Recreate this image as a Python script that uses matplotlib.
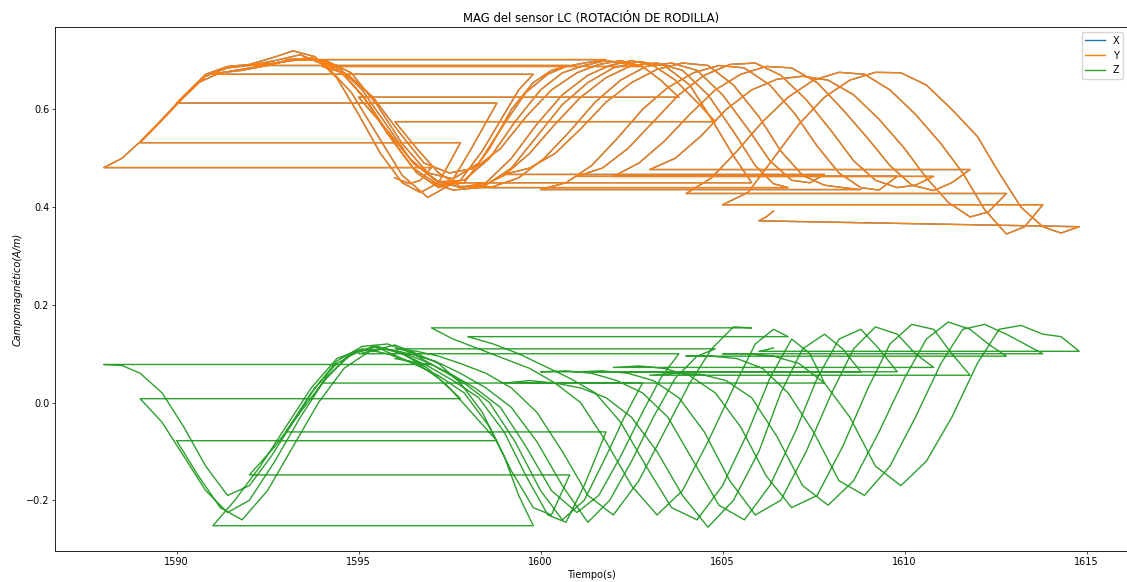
import matplotlib
matplotlib.use('Agg')
import matplotlib.pyplot as plt

# tramos de la grabacion (el tiempo vuelve atras entre tramos)
tiempo = [
    [1596.0, 1596.4, 1596.7, 1597.0],
    [1588.0, 1588.5, 1589.0, 1589.6, 1590.2, 1590.8, 1591.4, 1592.0, 1592.6, 1593.2, 1593.8, 1594.4, 1595.0, 1595.6, 1596.2, 1596.7, 1597.2, 1597.8],
    [1589.0, 1589.6, 1590.2, 1590.8, 1591.4, 1592.0, 1592.7, 1593.4, 1594.1, 1594.8, 1595.5, 1596.2, 1596.9, 1597.5, 1598.1, 1598.8],
    [1590.0, 1590.6, 1591.2, 1591.8, 1592.5, 1593.2, 1593.9, 1594.6, 1595.3, 1596.0, 1596.6, 1597.2, 1597.8, 1598.4, 1599.0, 1599.4, 1599.8],
    [1591.0, 1591.6, 1592.3, 1593.0, 1593.7, 1594.4, 1595.1, 1595.8, 1596.5, 1597.2, 1597.9, 1598.6, 1599.2, 1599.8, 1600.3, 1600.8],
    [1592.0, 1592.7, 1593.4, 1594.1, 1594.8, 1595.5, 1596.2, 1596.9, 1597.6, 1598.3, 1599.0, 1599.6, 1600.2, 1600.7, 1601.2, 1601.8],
    [1593.0, 1593.7, 1594.4, 1595.1, 1595.8, 1596.5, 1597.2, 1597.9, 1598.6, 1599.3, 1600.0, 1600.6, 1601.2, 1601.8, 1602.3, 1602.8],
    [1594.0, 1594.7, 1595.4, 1596.1, 1596.8, 1597.5, 1598.2, 1598.9, 1599.6, 1600.3, 1601.0, 1601.6, 1602.2, 1602.8, 1603.3, 1603.8],
    [1595.0, 1595.7, 1596.4, 1597.1, 1597.8, 1598.5, 1599.2, 1599.9, 1600.6, 1601.3, 1601.9, 1602.5, 1603.1, 1603.7, 1604.3, 1604.8],
    [1596.0, 1596.6, 1597.2, 1597.8, 1598.5, 1599.2, 1599.9, 1600.6, 1601.3, 1602.0, 1602.7, 1603.4, 1604.1, 1604.7, 1605.3, 1605.8],
    [1597.0, 1597.6, 1598.3, 1599.0, 1599.7, 1600.4, 1601.1, 1601.8, 1602.5, 1603.2, 1603.9, 1604.6, 1605.3, 1605.9, 1606.4, 1606.8],
    [1598.0, 1598.7, 1599.4, 1600.1, 1600.8, 1601.5, 1602.2, 1602.9, 1603.6, 1604.3, 1605.0, 1605.7, 1606.3, 1606.9, 1607.4, 1607.8],
    [1599.0, 1599.7, 1600.4, 1601.1, 1601.8, 1602.5, 1603.2, 1603.9, 1604.6, 1605.3, 1606.0, 1606.6, 1607.2, 1607.8, 1608.3, 1608.8],
    [1600.0, 1600.7, 1601.4, 1602.1, 1602.8, 1603.5, 1604.2, 1604.9, 1605.6, 1606.3, 1607.0, 1607.6, 1608.2, 1608.8, 1609.3, 1609.8],
    [1601.0, 1601.7, 1602.4, 1603.1, 1603.8, 1604.5, 1605.2, 1605.9, 1606.6, 1607.3, 1608.0, 1608.6, 1609.2, 1609.8, 1610.3, 1610.8],
    [1602.0, 1602.7, 1603.4, 1604.1, 1604.8, 1605.5, 1606.2, 1606.9, 1607.6, 1608.3, 1609.0, 1609.6, 1610.2, 1610.8, 1611.3, 1611.8],
    [1603.0, 1603.7, 1604.4, 1605.1, 1605.8, 1606.5, 1607.2, 1607.9, 1608.6, 1609.3, 1610.0, 1610.6, 1611.2, 1611.8, 1612.3, 1612.8],
    [1604.0, 1604.7, 1605.4, 1606.1, 1606.8, 1607.5, 1608.2, 1608.9, 1609.6, 1610.3, 1611.0, 1611.6, 1612.2, 1612.8, 1613.3, 1613.8],
    [1605.0, 1605.7, 1606.4, 1607.1, 1607.8, 1608.5, 1609.2, 1609.9, 1610.6, 1611.3, 1612.0, 1612.6, 1613.2, 1613.8, 1614.3, 1614.8],
    [1606.0, 1606.2, 1606.4],
]

mag_y = [
    [0.460, 0.448, 0.455, 0.481],
    [0.481, 0.500, 0.534, 0.580, 0.628, 0.672, 0.688, 0.692, 0.705, 0.720, 0.708, 0.665, 0.590, 0.510, 0.450, 0.430, 0.450, 0.532],
    [0.532, 0.578, 0.625, 0.668, 0.685, 0.690, 0.700, 0.712, 0.690, 0.635, 0.550, 0.465, 0.420, 0.445, 0.520, 0.613],
    [0.613, 0.655, 0.675, 0.680, 0.690, 0.702, 0.700, 0.672, 0.610, 0.530, 0.470, 0.440, 0.455, 0.515, 0.590, 0.640, 0.672],
    [0.672, 0.680, 0.688, 0.700, 0.706, 0.685, 0.630, 0.550, 0.480, 0.445, 0.450, 0.520, 0.600, 0.655, 0.680, 0.690],
    [0.690, 0.695, 0.702, 0.700, 0.675, 0.610, 0.530, 0.470, 0.458, 0.490, 0.570, 0.635, 0.672, 0.688, 0.695, 0.702],
    [0.702, 0.705, 0.690, 0.640, 0.565, 0.490, 0.452, 0.455, 0.500, 0.575, 0.640, 0.675, 0.690, 0.700, 0.695, 0.688],
    [0.688, 0.672, 0.625, 0.555, 0.490, 0.470, 0.480, 0.520, 0.585, 0.640, 0.675, 0.692, 0.700, 0.688, 0.660, 0.625],
    [0.625, 0.565, 0.500, 0.455, 0.440, 0.450, 0.500, 0.570, 0.630, 0.670, 0.690, 0.700, 0.690, 0.660, 0.615, 0.575],
    [0.575, 0.520, 0.470, 0.442, 0.445, 0.480, 0.545, 0.610, 0.655, 0.685, 0.698, 0.690, 0.650, 0.580, 0.505, 0.450],
    [0.450, 0.435, 0.440, 0.465, 0.510, 0.570, 0.625, 0.665, 0.690, 0.695, 0.680, 0.630, 0.555, 0.485, 0.448, 0.440],
    [0.440, 0.442, 0.460, 0.500, 0.555, 0.615, 0.660, 0.688, 0.695, 0.680, 0.630, 0.560, 0.495, 0.455, 0.450, 0.467],
    [0.467, 0.480, 0.510, 0.560, 0.615, 0.655, 0.682, 0.695, 0.690, 0.650, 0.585, 0.515, 0.465, 0.445, 0.440, 0.436],
    [0.436, 0.450, 0.485, 0.540, 0.600, 0.645, 0.675, 0.690, 0.685, 0.650, 0.590, 0.525, 0.470, 0.440, 0.435, 0.463],
    [0.463, 0.480, 0.520, 0.575, 0.630, 0.670, 0.692, 0.695, 0.670, 0.620, 0.555, 0.495, 0.455, 0.440, 0.445, 0.463],
    [0.463, 0.490, 0.535, 0.590, 0.640, 0.672, 0.688, 0.685, 0.655, 0.600, 0.540, 0.485, 0.445, 0.434, 0.450, 0.477],
    [0.477, 0.500, 0.545, 0.600, 0.640, 0.662, 0.668, 0.660, 0.630, 0.580, 0.520, 0.460, 0.410, 0.380, 0.390, 0.428],
    [0.428, 0.460, 0.515, 0.575, 0.625, 0.660, 0.676, 0.672, 0.640, 0.590, 0.530, 0.470, 0.395, 0.345, 0.360, 0.405],
    [0.405, 0.430, 0.500, 0.570, 0.625, 0.660, 0.676, 0.675, 0.650, 0.600, 0.545, 0.470, 0.400, 0.360, 0.347, 0.360],
    [0.372, 0.380, 0.392],
]

mag_z = [
    [0.090, 0.085, 0.080, 0.078],
    [0.078, 0.076, 0.060, 0.020, -0.050, -0.130, -0.190, -0.170, -0.110, -0.040, 0.030, 0.080, 0.105, 0.110, 0.090, 0.075, 0.050, 0.008],
    [0.008, -0.040, -0.110, -0.180, -0.225, -0.200, -0.120, -0.030, 0.050, 0.100, 0.115, 0.100, 0.070, 0.030, -0.020, -0.078],
    [-0.078, -0.150, -0.215, -0.240, -0.180, -0.090, 0.000, 0.070, 0.105, 0.118, 0.100, 0.080, 0.040, -0.020, -0.110, -0.190, -0.252],
    [-0.252, -0.200, -0.130, -0.050, 0.030, 0.090, 0.110, 0.100, 0.080, 0.055, 0.020, -0.050, -0.140, -0.215, -0.230, -0.148],
    [-0.148, -0.090, -0.020, 0.050, 0.100, 0.115, 0.100, 0.075, 0.045, 0.010, -0.060, -0.150, -0.230, -0.245, -0.170, -0.060],
    [-0.060, 0.020, 0.085, 0.115, 0.120, 0.100, 0.070, 0.040, 0.000, -0.080, -0.180, -0.240, -0.200, -0.110, -0.030, 0.040],
    [0.040, 0.095, 0.115, 0.105, 0.085, 0.060, 0.030, -0.010, -0.090, -0.180, -0.225, -0.190, -0.110, -0.020, 0.050, 0.100],
    [0.100, 0.110, 0.100, 0.085, 0.060, 0.030, -0.010, -0.080, -0.170, -0.245, -0.200, -0.120, -0.030, 0.050, 0.095, 0.110],
    [0.110, 0.105, 0.095, 0.080, 0.060, 0.030, -0.020, -0.100, -0.190, -0.230, -0.160, -0.060, 0.040, 0.110, 0.155, 0.153],
    [0.153, 0.130, 0.110, 0.090, 0.070, 0.040, 0.000, -0.080, -0.170, -0.230, -0.180, -0.080, 0.030, 0.120, 0.150, 0.135],
    [0.135, 0.120, 0.100, 0.075, 0.050, 0.020, -0.040, -0.130, -0.215, -0.240, -0.170, -0.060, 0.050, 0.130, 0.100, 0.040],
    [0.040, 0.045, 0.040, 0.030, 0.010, -0.030, -0.100, -0.190, -0.255, -0.200, -0.100, 0.020, 0.110, 0.140, 0.110, 0.063],
    [0.063, 0.065, 0.060, 0.045, 0.020, -0.030, -0.120, -0.210, -0.240, -0.170, -0.060, 0.050, 0.130, 0.150, 0.110, 0.063],
    [0.063, 0.065, 0.060, 0.045, 0.010, -0.060, -0.160, -0.230, -0.200, -0.100, 0.020, 0.110, 0.155, 0.140, 0.100, 0.072],
    [0.072, 0.075, 0.070, 0.055, 0.020, -0.050, -0.150, -0.215, -0.190, -0.090, 0.030, 0.120, 0.160, 0.150, 0.100, 0.056],
    [0.056, 0.060, 0.058, 0.045, 0.010, -0.070, -0.170, -0.210, -0.160, -0.060, 0.050, 0.130, 0.165, 0.150, 0.120, 0.095],
    [0.095, 0.095, 0.090, 0.070, 0.020, -0.060, -0.160, -0.190, -0.130, -0.030, 0.080, 0.150, 0.160, 0.140, 0.120, 0.100],
    [0.100, 0.100, 0.095, 0.080, 0.040, -0.030, -0.130, -0.170, -0.120, -0.030, 0.080, 0.150, 0.158, 0.140, 0.135, 0.105],
    [0.105, 0.108, 0.112],
]

# aplanar los tramos en una sola serie
t = [v for seg in tiempo for v in seg]
y = [v for seg in mag_y for v in seg]
z = [v for seg in mag_z for v in seg]
x = list(y)  # X queda tapada por Y en la grafica

plt.rcParams['font.size'] = 7.0

fig = plt.figure(figsize=(11.27, 5.82), dpi=100)
ax = fig.add_axes([55 / 1127, 31 / 582, 1073 / 1127, 524 / 582])

ax.plot(t, x, label='X', lw=1.0)
ax.plot(t, y, label='Y', lw=1.0)
ax.plot(t, z, label='Z', lw=1.0)

ax.set_title('MAG del sensor LC (ROTACIÓN DE RODILLA)', fontsize=8.4, pad=3.6)
ax.set_xlabel('Tiempo(s)', labelpad=2.4)
ax.set_ylabel('Campomagnético(A/m)', style='italic', labelpad=2.4)
ax.tick_params(length=2.1, width=0.5, pad=2.1)
for s in ax.spines.values():
    s.set_linewidth(0.6)
ax.legend(loc='upper right')

fig.savefig('out.png', dpi=100)
